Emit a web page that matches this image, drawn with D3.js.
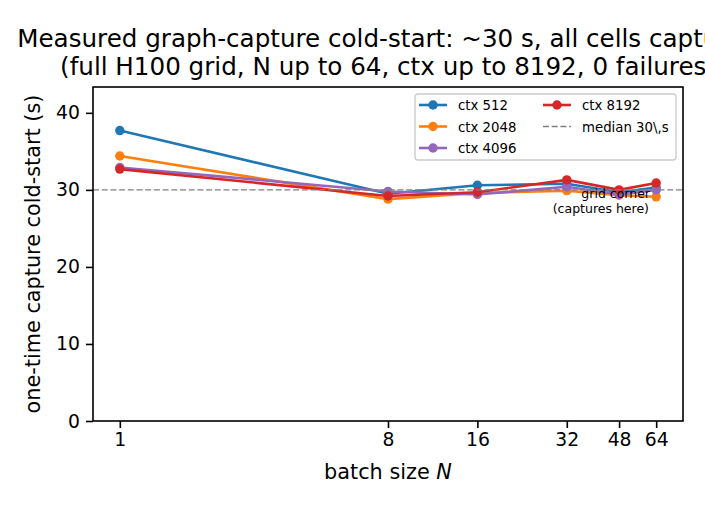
<!DOCTYPE html>
<html>
<head>
<meta charset="utf-8">
<script src="https://cdn.jsdelivr.net/npm/d3@7.9.0/dist/d3.min.js"></script>
<style>
  body { margin: 0; background: #fff; }
  svg { font-family: "DejaVu Sans", sans-serif; }
</style>
</head>
<body>
<svg id="chart" width="705" height="510"></svg>
<script>
// batch sizes on the x axis
const batchSizes = [1, 8, 16, 32, 48, 64];
const ctxLabels = ['ctx 512', 'ctx 2048', 'ctx 4096', 'ctx 8192'];
// cold-start seconds, one array per ctx
const ctx512 = [37.7, 29.5, 30.6, 30.8, 29.7, 30.3];
const ctx2048 = [34.4, 28.8, 29.6, 29.9, 29.3, 29.1];
const ctx4096 = [32.9, 29.8, 29.4, 30.4, 29.4, 30.0];
const ctx8192 = [32.7, 29.2, 29.7, 31.3, 30.0, 30.9];
const medianValue = 30;
const yTicks = [0, 10, 20, 30, 40];

const colors = ['#1f77b4', '#ff7f0e', '#9467bd', '#d62728'];
const seriesValues = [ctx512, ctx2048, ctx4096, ctx8192];

const svg = d3.select('#chart');
const mLeft = 93, mRight = 683, mTop = 87, mBottom = 421;

// log x with matplotlib-style 5% margins
const lo = Math.log2(1), hi = Math.log2(64), pad = (hi - lo) * 0.05;
const x = d3.scaleLog().base(2)
    .domain([Math.pow(2, lo - pad), Math.pow(2, hi + pad)])
    .range([mLeft, mRight]);
const yMax = d3.max(seriesValues.flat()) * 1.15;
const y = d3.scaleLinear().domain([0, yMax]).range([mBottom, mTop]);

// axes
const xAxis = d3.axisBottom(x).tickValues(batchSizes).tickFormat(d3.format('d'))
    .tickSize(7).tickPadding(5);
const yAxis = d3.axisLeft(y).tickValues(yTicks).tickSize(7).tickPadding(6);

svg.append('g').attr('transform', `translate(0,${mBottom})`).call(xAxis)
    .call(g => g.select('.domain').remove());
svg.append('g').attr('transform', `translate(${mLeft},0)`).call(yAxis)
    .call(g => g.select('.domain').remove());
svg.selectAll('.tick text').attr('font-size', 18.8).attr('fill', '#000')
    .attr('font-family', '"DejaVu Sans", sans-serif');
svg.selectAll('.tick line').attr('stroke', '#000').attr('stroke-width', 1.6);

const plot = svg.append('g');

const line = d3.line()
    .x((d, i) => x(batchSizes[i]))
    .y(d => y(d));

seriesValues.forEach((vals, k) => {
    plot.append('path')
        .attr('d', line(vals))
        .attr('fill', 'none')
        .attr('stroke', colors[k])
        .attr('stroke-width', 2.6);
    plot.selectAll(null).data(vals).enter().append('circle')
        .attr('cx', (d, i) => x(batchSizes[i]))
        .attr('cy', d => y(d))
        .attr('r', 4.7)
        .attr('fill', colors[k]);
});

// median reference line
plot.append('line')
    .attr('x1', mLeft).attr('x2', mRight)
    .attr('y1', y(medianValue)).attr('y2', y(medianValue))
    .attr('stroke', '#808080').attr('stroke-width', 1.4)
    .attr('stroke-dasharray', '6,2.7');

// annotation
const ann = svg.append('text')
    .attr('text-anchor', 'end')
    .attr('font-size', 12.5)
    .attr('fill', '#000');
ann.append('tspan').attr('x', 650).attr('y', y(29.6) + 5).text('grid corner');
ann.append('tspan').attr('x', 649).attr('y', y(29.6) + 20).text('(captures here)');

// frame
svg.append('rect')
    .attr('x', mLeft).attr('y', mTop)
    .attr('width', mRight - mLeft).attr('height', mBottom - mTop)
    .attr('fill', 'none').attr('stroke', '#000').attr('stroke-width', 1.6);

// legend
const lg = svg.append('g');
lg.append('rect')
    .attr('x', 415).attr('y', 94).attr('width', 261).attr('height', 66)
    .attr('rx', 3).attr('fill', '#fff').attr('fill-opacity', 0.8)
    .attr('stroke', '#cccccc').attr('stroke-width', 1.4);
const legendItems = ctxLabels.map((label, k) => ({ label, color: colors[k], dash: null }));
legendItems.push({ label: 'median 30\\,s', color: '#808080', dash: '6,2.7' });
legendItems.forEach((item, idx) => {
    const col = idx < 3 ? 0 : 1;
    const row = idx < 3 ? idx : idx - 3;
    const lx = col === 0 ? 419 : 543;
    const ly = 105 + row * 21.5;
    lg.append('line')
        .attr('x1', lx).attr('x2', lx + 28)
        .attr('y1', ly).attr('y2', ly)
        .attr('stroke', item.color)
        .attr('stroke-width', item.dash ? 1.4 : 2.6)
        .attr('stroke-dasharray', item.dash);
    if (!item.dash) {
        lg.append('circle').attr('cx', lx + 14).attr('cy', ly).attr('r', 4.7)
            .attr('fill', item.color);
    }
    lg.append('text')
        .attr('x', lx + 39).attr('y', ly + 5)
        .attr('font-size', 13.3)
        .text(item.label);
});

// title
const title = svg.append('text')
    .attr('text-anchor', 'middle')
    .attr('font-size', 24.6);
title.append('tspan').attr('x', (mLeft + mRight) / 2).attr('y', 47)
    .text('Measured graph-capture cold-start: ~30 s, all cells captured');
title.append('tspan').attr('x', (mLeft + mRight) / 2).attr('y', 75)
    .text('(full H100 grid, N up to 64, ctx up to 8192, 0 failures)');

// axis labels
const xl = svg.append('text')
    .attr('x', (mLeft + mRight) / 2).attr('y', 479)
    .attr('text-anchor', 'middle').attr('font-size', 20.8);
xl.append('tspan').text('batch size ');
xl.append('tspan').attr('font-style', 'italic').text('N');

svg.append('text')
    .attr('transform', `translate(40,${(mTop + mBottom) / 2}) rotate(-90)`)
    .attr('text-anchor', 'middle').attr('font-size', 20.8)
    .text('one-time capture cold-start (s)');
</script>
</body>
</html>
